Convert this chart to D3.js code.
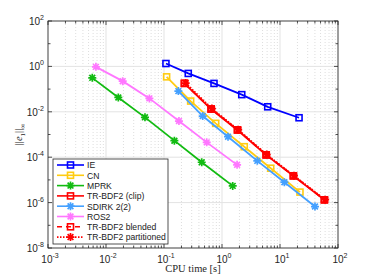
<!DOCTYPE html>
<html>
<head>
<meta charset="utf-8">
<script src="https://cdn.jsdelivr.net/npm/d3@7"></script>
<style>
  body { margin: 0; background: #fff; }
  text { font-family: "Liberation Sans", Arial, sans-serif; }
</style>
</head>
<body>
<div id="chart"></div>
<script>
// cpu time [s] and error for each method
var ie_time = [0.108, 0.262, 0.728, 2.19, 6.14, 21.3];
var ie_err = [1.34, 0.49, 0.178, 0.057, 0.0166, 0.00547];
var cn_time = [0.111, 0.288, 0.778, 2.42, 6.92, 22.1];
var cn_err = [0.347, 0.0297, 0.0031, 2.9e-4, 3.27e-5, 2.9e-6];
var mprk_time = [0.0058, 0.0163, 0.047, 0.151, 0.447, 1.53];
var mprk_err = [0.313, 0.043, 0.0057, 5.35e-4, 6.0e-5, 5.45e-6];
var clip_time = [0.224, 0.646, 1.84, 5.74, 16.9, 58];
var clip_err = [0.178, 0.0132, 0.00158, 1.26e-4, 1.5e-5, 1.32e-6];
var sdirk_time = [0.177, 0.465, 1.27, 4.06, 11.9, 40.1];
var sdirk_err = [0.0815, 0.0065, 8.0e-4, 6.9e-5, 7.9e-6, 6.7e-7];
var ros2_time = [0.0067, 0.0194, 0.056, 0.181, 0.545, 1.82];
var ros2_err = [0.953, 0.224, 0.039, 0.0039, 4.5e-4, 4.6e-5];
var blend_time = [0.226, 0.652, 1.86, 5.8, 17.1, 58.5];
var blend_err = [0.18, 0.0134, 0.0016, 1.27e-4, 1.52e-5, 1.33e-6];
var part_time = [0.236, 0.67, 1.9, 5.9, 17.4, 60];
var part_err = [0.185, 0.0138, 0.00163, 1.3e-4, 1.53e-5, 1.35e-6];

var x_ticks = [-3, -2, -1, 0, 1, 2];
var y_ticks = [2, 0, -2, -4, -6, -8];

var series = [
    {name: "IE", t: ie_time, e: ie_err, color: "#0000ff", marker: "square", dash: null},
    {name: "CN", t: cn_time, e: cn_err, color: "#ffcc11", marker: "square", dash: null},
    {name: "MPRK", t: mprk_time, e: mprk_err, color: "#11bb11", marker: "star", dash: null},
    {name: "TR-BDF2 (clip)", t: clip_time, e: clip_err, color: "#ff0000", marker: "square", dash: null},
    {name: "SDIRK 2(2)", t: sdirk_time, e: sdirk_err, color: "#44a0ff", marker: "star", dash: null},
    {name: "ROS2", t: ros2_time, e: ros2_err, color: "#ff77ff", marker: "star", dash: null},
    {name: "TR-BDF2 blended", t: blend_time, e: blend_err, color: "#ff0000", marker: "square", dash: "6,4"},
    {name: "TR-BDF2 partitioned", t: part_time, e: part_err, color: "#ff0000", marker: "star", dash: "1.5,1.5"}
];

var width = 374, height = 279;
var margin = {left: 48, right: 36, top: 21, bottom: 31};
var pw = width - margin.left - margin.right;
var ph = height - margin.top - margin.bottom;

var svg = d3.select("#chart").append("svg")
    .attr("width", width)
    .attr("height", height);

var x = d3.scaleLog().domain([1e-3, 1e2]).range([0, pw]);
var y = d3.scaleLog().domain([1e-8, 1e2]).range([ph, 0]);

var g = svg.append("g").attr("transform", "translate(" + margin.left + "," + margin.top + ")");

// minor x grid (dotted)
var minor_x = [];
for (var d = -3; d < 2; d++) {
    for (var k = 2; k < 10; k++) minor_x.push(k * Math.pow(10, d));
}
g.selectAll(".xminor").data(minor_x).enter().append("line")
    .attr("x1", d => x(d)).attr("x2", d => x(d))
    .attr("y1", 0).attr("y2", ph)
    .attr("stroke", "#c8c8c8").attr("stroke-width", 0.6)
    .attr("stroke-dasharray", "1,2");

// major grid
g.selectAll(".xmajor").data(x_ticks).enter().append("line")
    .attr("x1", d => x(Math.pow(10, d))).attr("x2", d => x(Math.pow(10, d)))
    .attr("y1", 0).attr("y2", ph)
    .attr("stroke", "#e3e3e3").attr("stroke-width", 1);
g.selectAll(".ymajor").data(y_ticks).enter().append("line")
    .attr("y1", d => y(Math.pow(10, d))).attr("y2", d => y(Math.pow(10, d)))
    .attr("x1", 0).attr("x2", pw)
    .attr("stroke", "#e3e3e3").attr("stroke-width", 1);

// ticks inward on all four sides
var axisColor = "#262626";
function tick(x1, y1, x2, y2) {
    g.append("line").attr("x1", x1).attr("y1", y1).attr("x2", x2).attr("y2", y2)
        .attr("stroke", axisColor).attr("stroke-width", 0.8);
}
minor_x.forEach(function (d) {
    tick(x(d), ph, x(d), ph - 2.5);
    tick(x(d), 0, x(d), 2.5);
});
x_ticks.forEach(function (d) {
    var px = x(Math.pow(10, d));
    tick(px, ph, px, ph - 4);
    tick(px, 0, px, 4);
});
for (var d = -8; d <= 2; d++) {
    var py = y(Math.pow(10, d));
    var len = (d % 2 == 0) ? 4 : 2.5;
    tick(0, py, len, py);
    tick(pw, py, pw - len, py);
}

// box
g.append("rect").attr("width", pw).attr("height", ph)
    .attr("fill", "none").attr("stroke", axisColor).attr("stroke-width", 0.8);

// tick labels
function powLabel(sel, e) {
    sel.append("tspan").text("10");
    sel.append("tspan").attr("dy", -5).attr("font-size", 7).text(e);
}
x_ticks.forEach(function (d) {
    var t = g.append("text").attr("x", x(Math.pow(10, d)) + 2).attr("y", ph + 15)
        .attr("text-anchor", "middle").attr("font-size", 10).attr("fill", axisColor);
    powLabel(t, d);
});
y_ticks.forEach(function (d) {
    var t = g.append("text").attr("x", -4).attr("y", y(Math.pow(10, d)) + 4)
        .attr("text-anchor", "end").attr("font-size", 10).attr("fill", axisColor);
    powLabel(t, d);
});

// axis labels
svg.append("text").attr("x", margin.left + pw / 2).attr("y", height - 7)
    .attr("text-anchor", "middle").attr("font-size", 10.5).attr("fill", axisColor)
    .style("font-family", "'Liberation Serif', 'DejaVu Serif', serif")
    .text("CPU time [s]");
var yl = svg.append("text").attr("transform", "translate(22," + (margin.top + ph / 2) + ") rotate(-90)")
    .attr("text-anchor", "middle").attr("font-size", 10.5).attr("fill", axisColor)
    .style("font-family", "'Liberation Serif', 'DejaVu Serif', serif");
yl.append("tspan").text("||");
yl.append("tspan").attr("font-style", "italic").text("e");
yl.append("tspan").attr("dy", 2.5).attr("font-size", 7).text("1");
yl.append("tspan").attr("dy", -2.5).text("||");
yl.append("tspan").attr("dy", 2.5).attr("font-size", 7).text("\u221e");

// markers
function drawMarker(sel, cx, cy, s) {
    if (s.marker == "square") {
        sel.append("rect").attr("x", cx - 3).attr("y", cy - 3)
            .attr("width", 6).attr("height", 6)
            .attr("fill", "none").attr("stroke", s.color).attr("stroke-width", 1.6);
    } else {
        var r = 4;
        var path = d3.path();
        path.moveTo(cx - r, cy); path.lineTo(cx + r, cy);
        path.moveTo(cx, cy - r); path.lineTo(cx, cy + r);
        var q = r * 0.72;
        path.moveTo(cx - q, cy - q); path.lineTo(cx + q, cy + q);
        path.moveTo(cx - q, cy + q); path.lineTo(cx + q, cy - q);
        sel.append("path").attr("d", path.toString())
            .attr("fill", "none").attr("stroke", s.color).attr("stroke-width", 1.7);
    }
}

var line = d3.line().x(d => x(d[0])).y(d => y(d[1]));
var plot = g.append("g");
series.forEach(function (s) {
    var pts = d3.zip(s.t, s.e);
    var p = plot.append("path").datum(pts).attr("d", line)
        .attr("fill", "none").attr("stroke", s.color).attr("stroke-width", 1.8);
    if (s.dash) p.attr("stroke-dasharray", s.dash);
    pts.forEach(function (pt) { drawMarker(plot, x(pt[0]), y(pt[1]), s); });
});

// legend
var lg = svg.append("g").attr("transform", "translate(53,159)");
lg.append("rect").attr("width", 115).attr("height", 85)
    .attr("fill", "#fff").attr("stroke", "#262626").attr("stroke-width", 0.8);
series.forEach(function (s, i) {
    var ly = 6 + i * 10.3;
    var l = lg.append("line").attr("x1", 4).attr("x2", 31).attr("y1", ly).attr("y2", ly)
        .attr("stroke", s.color).attr("stroke-width", 1.6);
    if (s.dash) l.attr("stroke-dasharray", s.dash == "6,4" ? "5,4" : s.dash);
    drawMarker(lg, 17.5, ly, s);
    lg.append("text").attr("x", 34).attr("y", ly + 3.3)
        .attr("font-size", 8.6).attr("fill", "#1a1a1a").text(s.name);
});
</script>
</body>
</html>
